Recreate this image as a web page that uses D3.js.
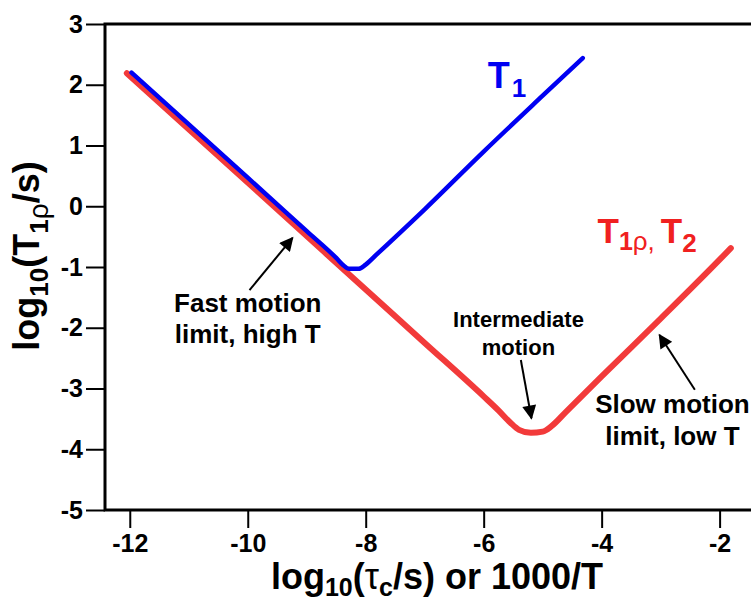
<!DOCTYPE html>
<html>
<head>
<meta charset="utf-8">
<script src="https://cdn.jsdelivr.net/npm/d3@7"></script>
<style>
  body { margin: 0; background: #fff; }
  svg { display: block; font-family: "Liberation Sans", Arial, sans-serif; font-weight: bold; }
</style>
</head>
<body>
<div class="container"></div>
<script>
// relaxation time curves, log10 of time vs log10(tau_c)
var t1X   = [-11.97, -10, -9, -8.5, -8.38, -8.28, -8.12, -8.0, -7.8, -7, -6, -5, -4.32];
var t1Y   = [2.20, 0.47, -0.41, -0.85, -0.97, -1.03, -1.03, -0.96, -0.78, -0.05, 0.90, 1.82, 2.44];
var t2X   = [-12.05, -10, -8, -7, -6, -5.75, -5.55, -5.4, -5.2, -5.0, -4.85, -4.6, -4, -3, -2, -1.81];
var t2Y   = [2.19, 0.39, -1.37, -2.25, -3.13, -3.36, -3.56, -3.68, -3.73, -3.71, -3.62, -3.38, -2.8, -1.85, -0.88, -0.69];
var xTicks = [-12, -10, -8, -6, -4, -2];
var yTicks = [-5, -4, -3, -2, -1, 0, 1, 2, 3];

var w = 751, h = 602;
var margin = {top: 24, left: 105, bottom: 510, right: 755};

var svg = d3.select('.container')
  .append('svg')
  .attr('width', w)
  .attr('height', h);

var xScale = d3.scaleLinear().domain([-12.42, -1.4]).range([margin.left, margin.right]);
var yScale = d3.scaleLinear().domain([-5, 3]).range([margin.bottom, margin.top]);

/* ===== ARROW HEAD ===== */
svg.append('defs').append('marker')
  .attr('id', 'head')
  .attr('viewBox', '0 0 10 10')
  .attr('refX', 9).attr('refY', 5)
  .attr('markerWidth', 8).attr('markerHeight', 7)
  .attr('orient', 'auto')
  .attr('markerUnits', 'strokeWidth')
  .append('path')
  .attr('d', 'M0,0 L10,5 L0,10 Z')
  .attr('fill', '#000');

/* ===== FRAME + AXES ===== */
svg.append('rect')
  .attr('x', margin.left).attr('y', margin.top)
  .attr('width', margin.right - margin.left)
  .attr('height', margin.bottom - margin.top)
  .attr('fill', 'none').attr('stroke', '#000').attr('stroke-width', 3);

var xAxis = d3.axisBottom(xScale).tickValues(xTicks).tickSize(18).tickPadding(6)
  .tickFormat(function(d) { return d; });
var yAxis = d3.axisLeft(yScale).tickValues(yTicks).tickSize(19).tickPadding(3)
  .tickFormat(function(d) { return d; });

var gx = svg.append('g')
  .attr('transform', 'translate(0,' + margin.bottom + ')')
  .call(xAxis);
var gy = svg.append('g')
  .attr('transform', 'translate(' + margin.left + ',0)')
  .call(yAxis);

[gx, gy].forEach(function(g) {
  g.select('.domain').remove();
  g.selectAll('.tick line').attr('stroke', '#000').attr('stroke-width', 2);
  g.selectAll('.tick text')
    .attr('fill', '#000')
    .style('font', 'bold 25px "Liberation Sans", Arial, sans-serif');
});

/* ===== CURVES ===== */
var line = d3.line()
  .x(function(d) { return xScale(d[0]); })
  .y(function(d) { return yScale(d[1]); })
  .curve(d3.curveMonotoneX);

svg.append('path')
  .datum(d3.zip(t2X, t2Y))
  .attr('d', line)
  .attr('fill', 'none')
  .attr('stroke', '#f23a3a')
  .attr('stroke-width', 6)
  .attr('stroke-linecap', 'round')
  .attr('stroke-linejoin', 'round');

svg.append('path')
  .datum(d3.zip(t1X, t1Y))
  .attr('d', line)
  .attr('fill', 'none')
  .attr('stroke', '#0000f2')
  .attr('stroke-width', 4.5)
  .attr('stroke-linecap', 'round')
  .attr('stroke-linejoin', 'round');

/* ===== CURVE LABELS ===== */
var t1Lab = svg.append('text')
  .attr('x', xScale(-5.93)).attr('y', yScale(1.95))
  .attr('fill', '#0000f2')
  .style('font-size', '36px');
t1Lab.append('tspan').text('T');
t1Lab.append('tspan').attr('dy', 9).attr('dx', 2).style('font-size', '26px').text('1');

var t2Lab = svg.append('text')
  .attr('x', xScale(-4.07)).attr('y', yScale(-0.6))
  .attr('fill', '#f02020')
  .style('font-size', '35px');
t2Lab.append('tspan').text('T');
t2Lab.append('tspan').attr('dy', 7).style('font-size', '25px').text('1');
t2Lab.append('tspan').style('font-size', '26px').style('font-weight', 'normal').text('ρ,');
t2Lab.append('tspan').attr('dy', -7).attr('dx', 6).text('T');
t2Lab.append('tspan').attr('dy', 9).style('font-size', '26px').text('2');

/* ===== ANNOTATIONS ===== */
var notes = [
  {lines: ['Fast motion', 'limit, high T'], x: -10.0, y: -1.74, size: 26, lh: 31,
   from: [-9.97, -1.38], to: [-9.24, -0.52]},
  {lines: ['Intermediate', 'motion'], x: -5.41, y: -1.99, size: 22, lh: 28,
   from: [-5.37, -2.53], to: [-5.19, -3.49]},
  {lines: ['Slow motion', 'limit, low T'], x: -2.8, y: -3.40, size: 26, lh: 32,
   from: [-2.42, -3.02], to: [-3.02, -2.12]}
];

notes.forEach(function(n) {
  var t = svg.append('text')
    .attr('text-anchor', 'middle')
    .attr('fill', '#000')
    .style('font-size', n.size + 'px');
  n.lines.forEach(function(s, i) {
    t.append('tspan')
      .attr('x', xScale(n.x))
      .attr('y', yScale(n.y) + i * n.lh)
      .text(s);
  });
  svg.append('line')
    .attr('x1', xScale(n.from[0])).attr('y1', yScale(n.from[1]))
    .attr('x2', xScale(n.to[0])).attr('y2', yScale(n.to[1]))
    .attr('stroke', '#000').attr('stroke-width', 2)
    .attr('marker-end', 'url(#head)');
});

/* ===== AXIS TITLES ===== */
var xt = svg.append('text')
  .attr('x', 437).attr('y', 589)
  .attr('text-anchor', 'middle')
  .attr('fill', '#000')
  .style('font-size', '36px');
xt.append('tspan').text('log');
xt.append('tspan').attr('dy', 7).style('font-size', '25px').text('10');
xt.append('tspan').attr('dy', -7).text('(');
xt.append('tspan').style('font-weight', 'normal').text('τ');
xt.append('tspan').attr('dy', 7).style('font-size', '25px').text('c');
xt.append('tspan').attr('dy', -7).text('/s) or 1000/T');

var yt = svg.append('text')
  .attr('transform', 'translate(39,256) rotate(-90)')
  .attr('text-anchor', 'middle')
  .attr('fill', '#000')
  .style('font-size', '36px');
yt.append('tspan').text('log');
yt.append('tspan').attr('dy', 9).style('font-size', '26px').text('10');
yt.append('tspan').attr('dy', -9).text('(T');
yt.append('tspan').attr('dy', 9).style('font-size', '26px').text('1');
yt.append('tspan').style('font-size', '28px').style('font-weight', 'normal').text('ρ');
yt.append('tspan').attr('dy', -9).text('/s)');
</script>
</body>
</html>
